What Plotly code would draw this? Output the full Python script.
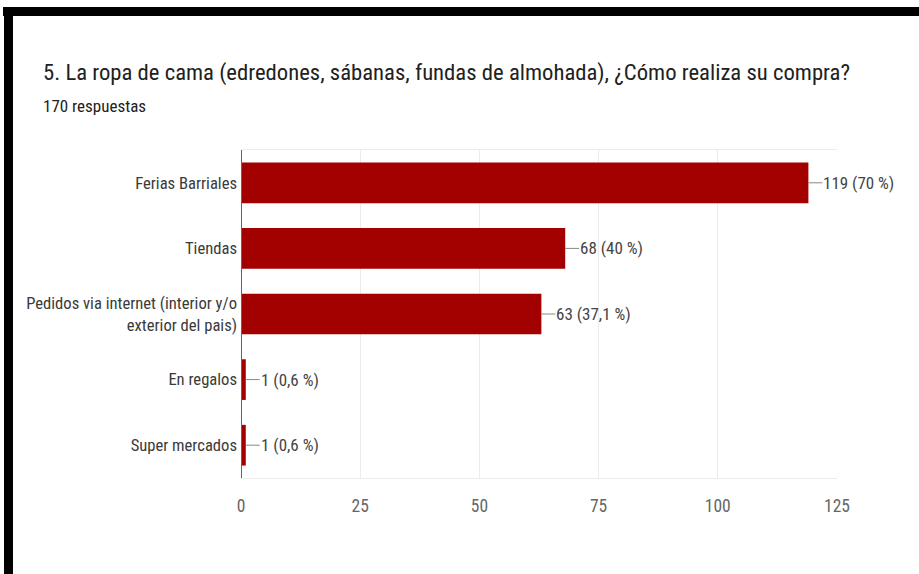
import plotly.graph_objects as go

categories = ["Ferias Barriales", "Tiendas",
              "Pedidos via internet (interior y/o<br>exterior del pais)",
              "En regalos", "Super mercados"]
values = [119, 68, 63, 1, 1]
total_responses = 170
x_ticks = [0, 25, 50, 75, 100, 125]

title_text = "5. La ropa de cama (edredones, sábanas, fundas de almohada), ¿Cómo realiza su compra?"
subtitle_text = f"{total_responses} respuestas"


def pct_label(v):
    p = round(v / total_responses * 100, 1)
    s = f"{p:.1f}".replace(".", ",")
    if s.endswith(",0"):
        s = s[:-2]
    return f"{v} ({s} %)"


W, H = 919, 574
L, R, T, B = 241, 82, 150, 96
PW, PH = W - L - R, H - T - B


def px(x):
    return (x - L) / PW


def py(y):
    return (H - B - y) / PH


FONT = "Roboto Condensed, Liberation Sans Narrow, Arial Narrow, Roboto, sans-serif"

fig = go.Figure(go.Bar(
    x=values, y=categories, orientation="h",
    marker=dict(color="#a30000", line=dict(width=0)),
    width=0.62, hoverinfo="skip",
))

annotations = []
for c, v in zip(categories, values):
    annotations.append(dict(
        x=v, y=c, xref="x", yref="y", text=pct_label(v),
        showarrow=True, arrowhead=0, arrowwidth=1, arrowcolor="#888",
        ax=14, ay=0, xanchor="left", yanchor="middle",
        font=dict(family=FONT, size=17, color="#444"), borderpad=0,
    ))

annotations.append(dict(x=px(41), y=py(73), xref="paper", yref="paper",
                        text=title_text, showarrow=False, xanchor="left", yanchor="middle",
                        font=dict(family=FONT, size=22.7, color="#212121")))
annotations.append(dict(x=px(41), y=py(106), xref="paper", yref="paper",
                        text=subtitle_text, showarrow=False, xanchor="left", yanchor="middle",
                        font=dict(family=FONT, size=17, color="#212121")))

shapes = [
    dict(type="rect", xref="paper", yref="paper", x0=px(3), x1=px(930), y0=py(16), y1=py(7),
         fillcolor="black", line=dict(width=0), layer="above"),
    dict(type="rect", xref="paper", yref="paper", x0=px(4), x1=px(13), y0=py(590), y1=py(7),
         fillcolor="black", line=dict(width=0), layer="above"),
]

fig.update_layout(
    width=W, height=H,
    margin=dict(l=L, r=R, t=T, b=B, pad=0),
    paper_bgcolor="white", plot_bgcolor="white",
    showlegend=False,
    annotations=annotations, shapes=shapes,
    xaxis=dict(range=[0, 125], tickvals=x_ticks, showgrid=True, gridcolor="#ebebeb", gridwidth=1,
               zeroline=False, showline=True, linecolor="#ebebeb", linewidth=1, mirror=True,
               ticks="", ticklabelstandoff=12,
               tickfont=dict(family=FONT, size=17.5, color="#666"), fixedrange=True),
    yaxis=dict(categoryorder="array", categoryarray=categories[::-1], autorange=False,
               range=[-0.5, len(categories) - 0.5],
               showgrid=False, zeroline=False, showline=False, ticks="", ticklabelstandoff=3,
               tickfont=dict(family=FONT, size=16.6, color="#3a3a3a"), fixedrange=True),
)
fig.add_shape(type="line", xref="x", yref="paper", x0=0, x1=0, y0=0, y1=1,
              line=dict(color="#666", width=2), layer="above")

fig.write_html("out.html", config={"displayModeBar": False},
               post_script="document.body.style.margin='0';document.body.style.overflow='hidden';")
